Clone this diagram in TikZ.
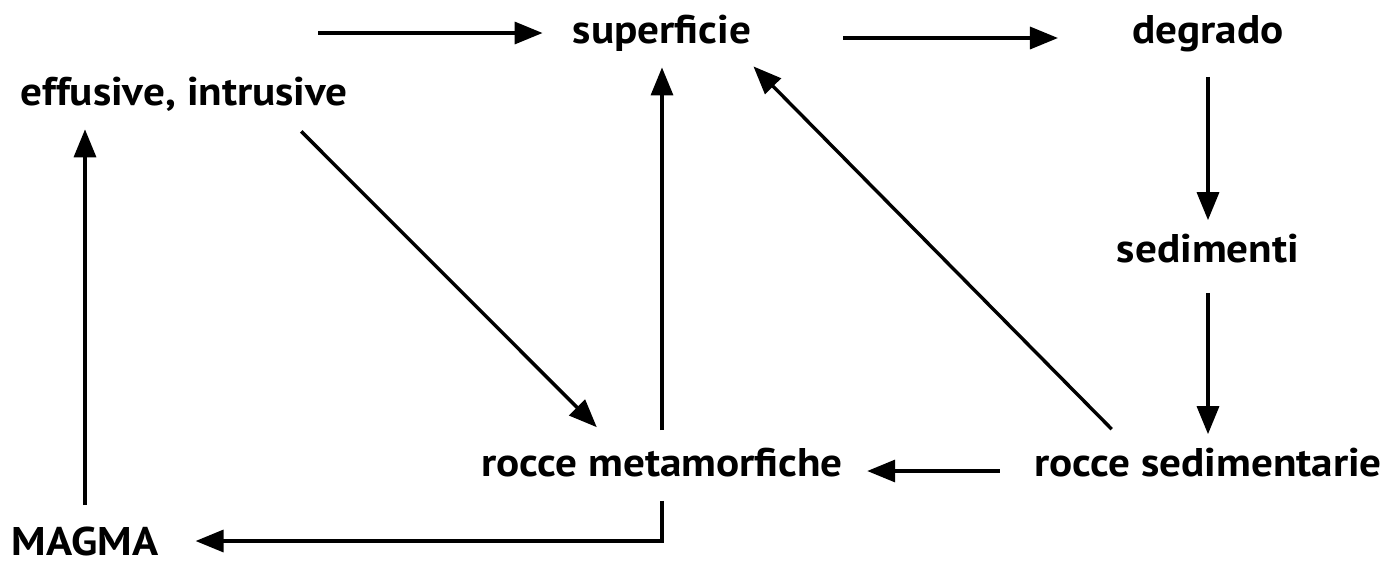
\documentclass[tikz,border=0pt]{standalone}
\usepackage{fontspec}
\setmainfont{PT Sans}[FakeStretch=1.08]
\usetikzlibrary{arrows.meta}

\begin{document}
\begin{tikzpicture}[
    x=0.5pt, y=-0.5pt,
    stage/.style={inner sep=0pt, anchor=base, font=\fontsize{20}{24}\selectfont\bfseries},
    arrow/.style={-{Triangle[length=14pt, width=11pt]}, line width=1.7pt},
  ]
  \useasboundingbox (0,0) rectangle (1394,564);

  % Stages of the cycle
  \node[stage] (sup) at (662,43) {superficie};
  \node[stage] (deg) at (1208,43) {degrado};
  \node[stage] (eff) at (184,105) {effusive, intrusive};
  \node[stage] (sed) at (1208,262) {sedimenti};
  \node[stage] (rs) at (1208,476) {rocce sedimentarie};
  \node[stage] (rm) at (662,476) {rocce metamorfiche};
  \node[stage] (magma) at (85,555) {MAGMA};

  % Free arrow into superficie
  \coordinate (src) at (318,33);
  \draw[arrow, shorten >=15pt] (src) -- (src -| sup.west);

  % Weathering branch
  \draw[arrow, shorten <=46pt, shorten >=37pt] (sup.mid east) -- (deg.mid west);
  \draw[arrow, shorten <=12.5pt, shorten >=6.5pt] (deg.south) -- (sed.north);
  \draw[arrow, shorten <=15pt, shorten >=6.5pt] (sed.south) -- (rs.north);

  % Back to the surface
  \draw[arrow] ([xshift=39pt, yshift=9pt]rs.north west) -- ([xshift=1pt, yshift=-7.5pt]sup.south east);
  \draw[arrow, shorten <=8.5pt, shorten >=8pt] (rm.north) -- (rm.north |- sup.south);

  % Metamorphism
  \draw[arrow, shorten <=17pt, shorten >=12pt] (rs.mid west) -- (rm.mid east);
  \draw[arrow] ([xshift=-23.5pt, yshift=-10pt]eff.south east) -- ([xshift=58pt, yshift=10pt]rm.north west);

  % Melting and rising magma
  \draw[arrow, shorten <=12pt, shorten >=18.5pt] (rm.south) |- (magma.east);
  \draw[arrow, shorten <=10.5pt, shorten >=9pt] (magma.north) -- (magma.north |- eff.south);

\end{tikzpicture}
\end{document}
